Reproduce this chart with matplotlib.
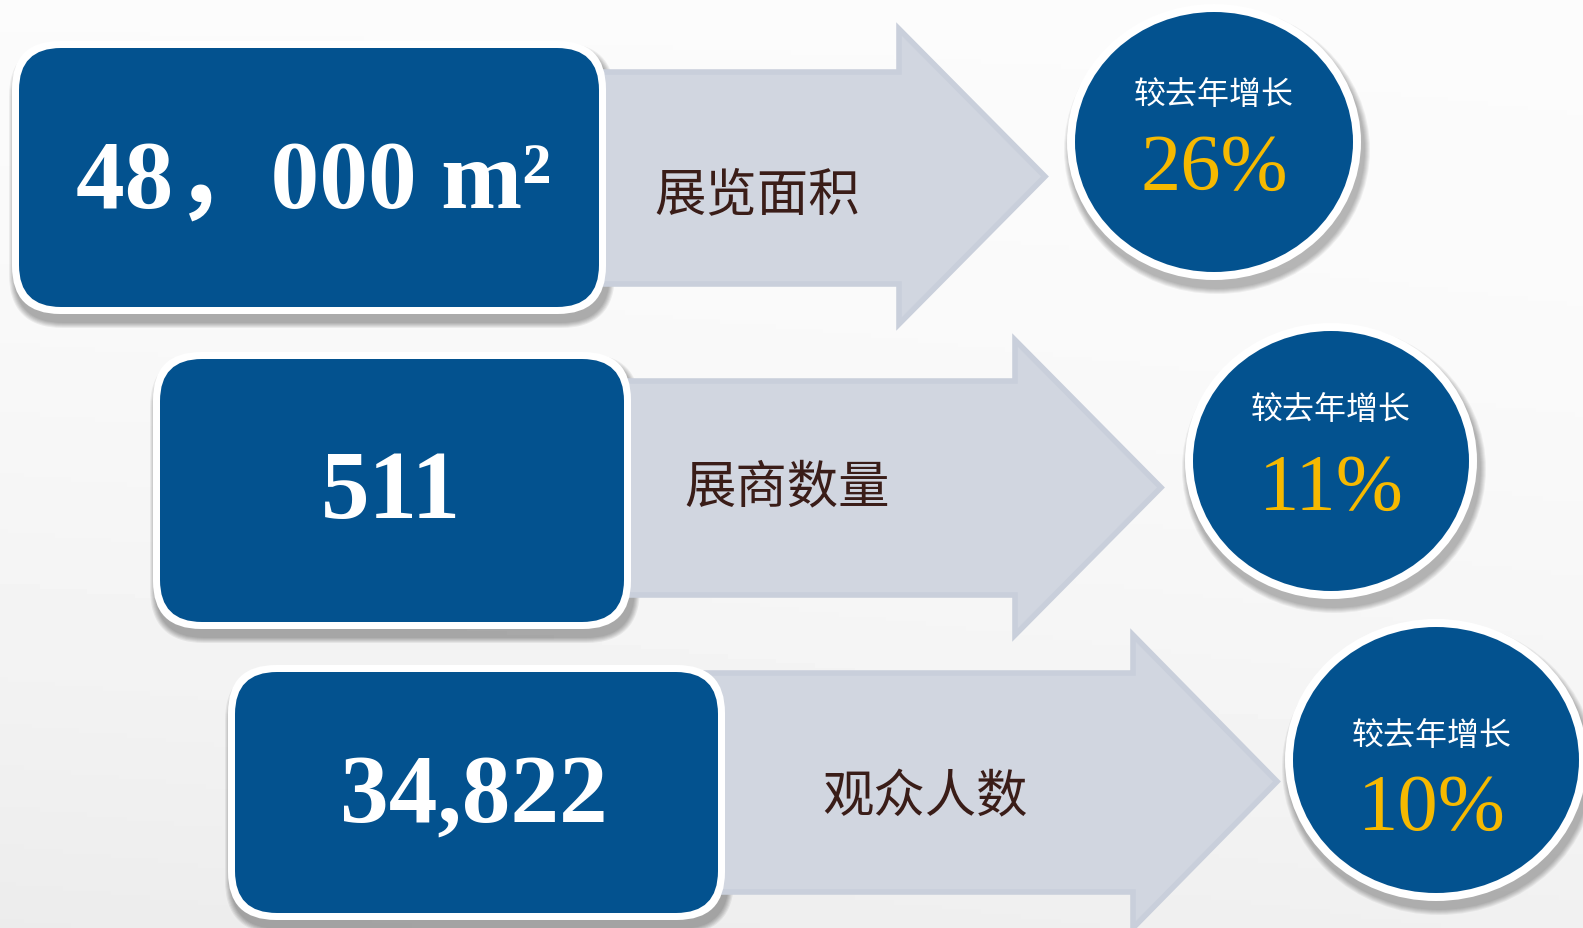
import numpy as np
import matplotlib.pyplot as plt
from matplotlib.patches import FancyBboxPatch, Polygon, Ellipse

# chart content
values = ['48，000 m²', '511', '34,822']
labels = ['展览面积', '展商数量', '观众人数']
growth = ['26%', '11%', '10%']
growth_title = '较去年增长'

# colours
blue = '#03528f'
gold = '#f6b900'
arrow_col = '#d1d6e0'
arrow_edge = '#c9cfdb'
label_col = '#3a1d18'

# layout in pixels (left, top, right, bottom) of the white-framed boxes
boxes = [(12, 42, 606, 315), (153, 353, 631, 630), (228, 666, 725, 921)]
value_pos = [(314, 208), (391, 518), (474, 822)]
# arrows: body_left, body_top, body_bottom, neck_x, head_top, head_bottom, tip_x
arrows = [(560, 73, 285, 899, 30, 325, 1045),
          (590, 382, 596, 1015, 341, 636, 1161),
          (690, 674, 893, 1133, 636, 929, 1277)]
label_pos = [(757, 195), (787, 488), (925, 798)]
# circles: cx, cy, rx, ry of the blue face
circles = [(1214, 143, 139, 130), (1331, 462, 138, 130), (1436, 761, 143, 133)]
title_pos = [(1214, 95), (1331, 410), (1432, 736)]
pct_pos = [(1214, 190), (1331, 510), (1432, 830)]

W, H = 1583, 929
fig = plt.figure(figsize=(W / 100, H / 100), dpi=100)
ax = fig.add_axes([0, 0, 1, 1])
ax.set_xlim(0, W)
ax.set_ylim(H, 0)
ax.axis('off')

# soft grey background
yy, xx = np.mgrid[0:1:200j, 0:1:200j]
bg = 0.985 - 0.06 * (0.7 * yy + 0.3 * (1 - xx)) * yy
ax.imshow(bg, cmap='gray', vmin=0, vmax=1, extent=(0, W, H, 0), zorder=0, aspect='auto')

def shadow_box(l, t, r, b, rad):
    for k in range(6):
        g = 2 + k * 2
        p = FancyBboxPatch((l - g / 2 + 3, t + 8 - g / 2), r - l + g, b - t + g,
                           boxstyle='round,pad=0,rounding_size=%d' % (rad + g / 2),
                           fc='black', ec='none', alpha=0.06, zorder=1)
        ax.add_patch(p)

def shadow_ellipse(cx, cy, rx, ry):
    for k in range(6):
        g = 2 + k * 2
        ax.add_patch(Ellipse((cx + 3, cy + 8), 2 * rx + g, 2 * ry + g,
                             fc='black', ec='none', alpha=0.05, zorder=1))

for i in range(3):
    # arrow
    bl, bt, bb, nx, ht, hb, tx = arrows[i]
    ty = (ht + hb) / 2
    pts = [(bl, bt), (nx, bt), (nx, ht), (tx, ty), (nx, hb), (nx, bb), (bl, bb)]
    ax.add_patch(Polygon(pts, closed=True, fc=arrow_col, ec=arrow_edge, lw=4,
                         joinstyle='miter', zorder=2))
    ax.text(*label_pos[i], labels[i], color=label_col, fontsize=37,
            family=['Noto Sans CJK SC'], ha='center', va='center', zorder=5)

    # value box
    l, t, r, b = boxes[i]
    shadow_box(l, t, r, b, 48)
    ax.add_patch(FancyBboxPatch((l, t), r - l, b - t,
                                boxstyle='round,pad=0,rounding_size=48',
                                fc='white', ec='none', zorder=3))
    bw = 7
    ax.add_patch(FancyBboxPatch((l + bw, t + bw), r - l - 2 * bw, b - t - 2 * bw,
                                boxstyle='round,pad=0,rounding_size=42',
                                fc=blue, ec='none', zorder=4))
    ax.text(*value_pos[i], values[i], color='white', fontsize=70, fontweight='bold',
            family=['Liberation Serif', 'Noto Sans CJK SC'],
            ha='center', va='baseline', zorder=5)

    # growth circle
    cx, cy, rx, ry = circles[i]
    shadow_ellipse(cx, cy, rx + 8, ry + 8)
    ax.add_patch(Ellipse((cx, cy), 2 * rx + 16, 2 * ry + 16, fc='white', ec='none', zorder=3))
    ax.add_patch(Ellipse((cx, cy), 2 * rx, 2 * ry, fc=blue, ec='none', zorder=4))
    ax.text(*title_pos[i], growth_title, color='white', fontsize=23, fontweight='light',
            family=['Noto Sans CJK SC'], ha='center', va='center', zorder=5)
    ax.text(*pct_pos[i], growth[i], color=gold, fontsize=58,
            family=['Liberation Serif'], ha='center', va='baseline', zorder=5)

fig.savefig('out.png', dpi=100)
